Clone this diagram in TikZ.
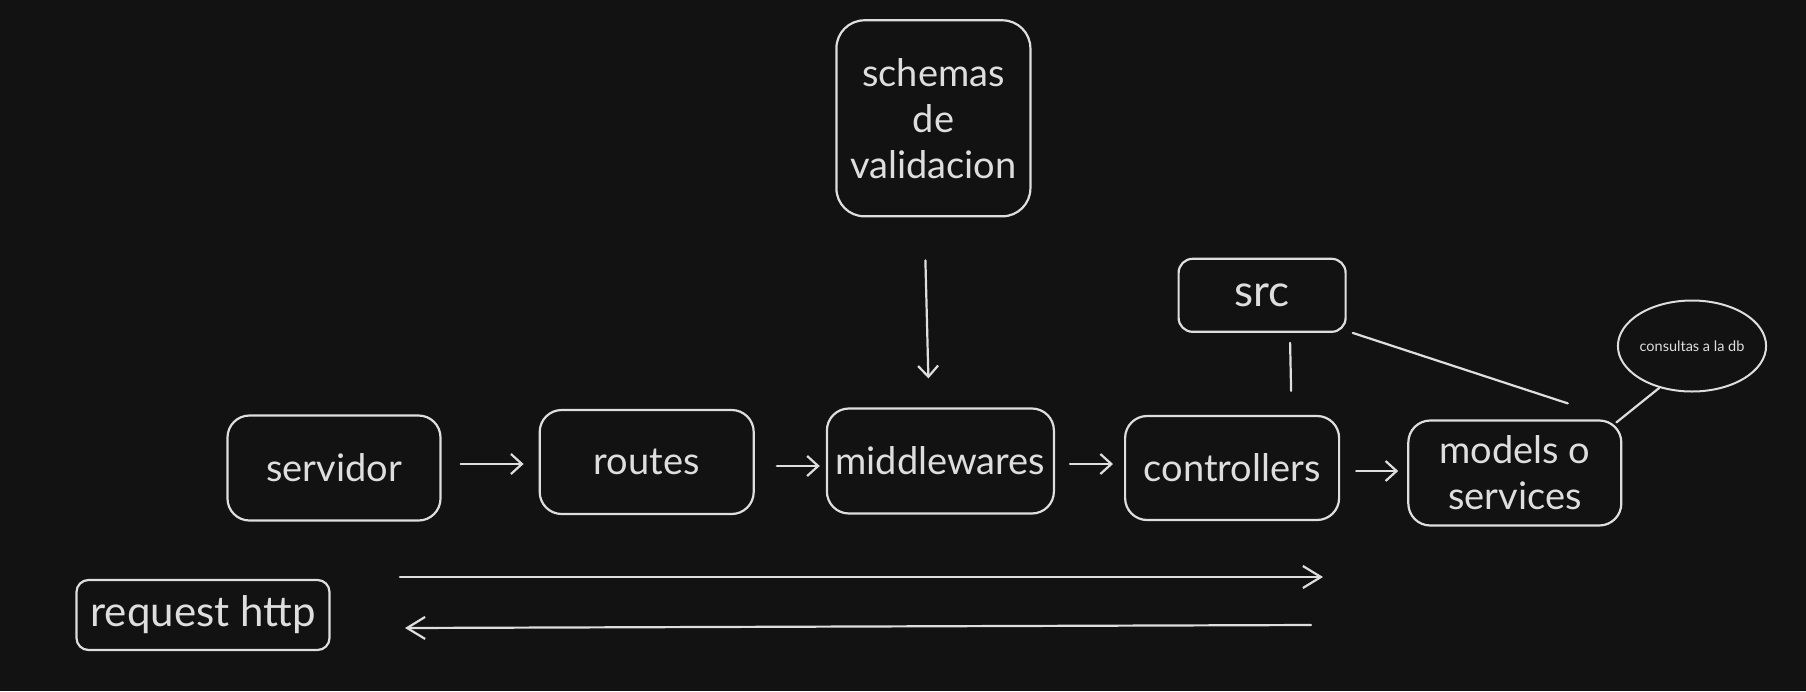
\documentclass[tikz,border=0pt]{standalone}
\usepackage{fontspec}
\setmainfont{Lato}
\usetikzlibrary{calc, positioning, arrows.meta, shapes.geometric}
\definecolor{canvas}{HTML}{121212}
\definecolor{chalk}{HTML}{DEDEDE}

\begin{document}
\begin{tikzpicture}[x=1pt, y=-1pt, node distance=70pt, auto]
    \tikzstyle{block} = [rectangle, draw=chalk, line width=2.2pt, text=chalk, rounded corners=22pt, minimum width=213pt, minimum height=105pt, inner sep=0pt, align=center, font=\fontsize{38}{46}\selectfont]
    \tikzstyle{small_block} = [block, rounded corners=14pt, minimum width=167pt, minimum height=73pt]
    \tikzstyle{note} = [ellipse, draw=chalk, line width=2pt, text=chalk, minimum width=141pt, minimum height=91pt, inner sep=0pt, font=\fontsize{14.5}{17}\selectfont]
    \tikzstyle{line} = [draw=chalk, line width=2.2pt, line cap=round, -{Straight Barb[length=11pt, width=20pt]}]
    \tikzstyle{long_line} = [line, -{Straight Barb[length=18pt, width=22pt]}]
    \tikzstyle{link} = [draw=chalk, line width=2.2pt, line cap=round]

    \fill [canvas] (0,0) rectangle (1806,691);
    \useasboundingbox (0,0) rectangle (1806,691);

    \node [block] (servidor) at (334,468) {servidor};
    \node [block, right=97pt of servidor, yshift=6pt, minimum width=214pt, minimum height=104pt] (routes) {routes};
    \node [block, right=71pt of routes, yshift=1pt, minimum width=227pt] (middlewares) {middlewares};
    \node [block, right=69pt of middlewares, yshift=-7pt, minimum width=214pt, minimum height=104pt] (controllers) {controllers};
    \node [block, right=67pt of controllers, yshift=-5pt] (models) {models o\\services};
    \node [block, above=190pt of middlewares, xshift=-7pt, minimum width=194pt, minimum height=196pt, rounded corners=28pt] (schemas) {schemas\\de\\validacion};
    \node [small_block, above=82pt of controllers, xshift=30pt, font=\fontsize{44}{50}\selectfont] (src) {src};
    \node [note] (db) at (1692,346) {consultas a la db};
    \node [small_block, rounded corners=12pt, minimum width=253pt, minimum height=70pt, font=\fontsize{42}{48}\selectfont] (request) at (203,615) {request http};

    \coordinate (req_start) at (400,577);
    \coordinate (req_end) at (1323,577);
    \coordinate (res_start) at (1311,625);
    \coordinate (res_end) at (405,628);

    \path [line] ([xshift=19pt, yshift=4pt]servidor.east) -- ([xshift=-15pt, yshift=-2pt]routes.west);
    \path [line] ([xshift=22pt, yshift=-4pt]routes.east) -- ([xshift=-6pt, yshift=-5pt]middlewares.west);
    \path [line] ([xshift=15pt, yshift=-3pt]middlewares.east) -- ([xshift=-11pt, yshift=4pt]controllers.west);
    \path [line] ([xshift=16pt, yshift=-3pt]controllers.east) -- ([xshift=-9pt, yshift=2pt]models.west);
    \path [line] ([xshift=-8pt, yshift=-43pt]schemas.south) -- ([xshift=-12pt, yshift=29pt]middlewares.north);
    \path [link] ([xshift=28pt, yshift=-10pt]src.south) -- ([xshift=59pt, yshift=24pt]controllers.north);
    \path [link] ([xshift=6pt]src.south east) -- ([xshift=53pt, yshift=16pt]models.north);
    \path [link] ([xshift=-6pt, yshift=-3pt]models.north east) -- (db.232);
    \path [long_line] (req_start) -- (req_end);
    \path [long_line] (res_start) -- (res_end);
\end{tikzpicture}
\end{document}
